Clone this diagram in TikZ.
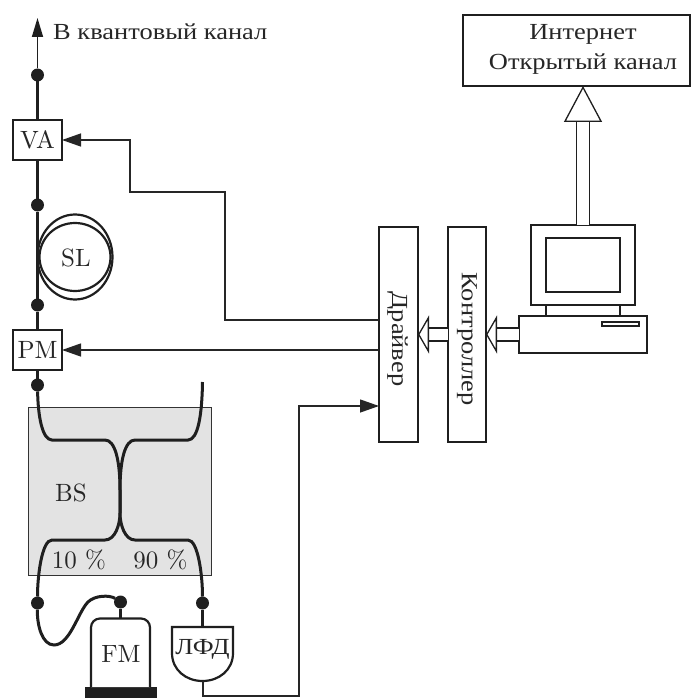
\documentclass[tikz,border=0pt]{standalone}
\usepackage{fontspec}
\setmainfont{lmroman10-regular.otf}
\newfontfamily\cyr[FakeStretch=1.15]{Liberation Serif}
\usetikzlibrary{arrows.meta,calc}
\tikzset{
  base font/.style={font=\fontsize{23}{28}\selectfont},
  latin font/.style={font=\fontsize{25}{30}\selectfont},
  fibre/.style={line width=3pt,draw=black!88},
  thinl/.style={line width=1.3pt,draw=black!85},
  sig/.style={thinl,-{Stealth[length=19pt,width=13pt,inset=0pt]}},
  box/.style={draw=black!88,line width=2.2pt,fill=white,inner sep=0pt,outer sep=0pt,latin font,text=black!85},
  dot/.style={circle,fill=black!88,minimum size=13pt,inner sep=0pt,outer sep=0pt},
  lbl/.style={inner sep=0pt,base font,text=black!85},
  llbl/.style={inner sep=0pt,latin font,text=black!85},
  hollow/.style={double=white,draw=black!88,line width=1.3pt,double distance=11.5pt,
    -{Triangle[open,length=36pt,width=38pt,line width=1.3pt,fill=white]}},
  hollowsmall/.style={double=white,draw=black!88,line width=1.3pt,double distance=11.5pt,
    -{Triangle[open,length=11pt,width=38pt,line width=1.3pt,fill=white]}},
}
\begin{document}
\begin{tikzpicture}[x=1pt,y=-1pt]
\useasboundingbox (0,0) rectangle (691,698);
% gray splitter
\node[fill=black!11,draw=black!80,line width=0.9pt,minimum width=183pt,minimum height=168pt,inner sep=0pt,outer sep=0pt] (bs) at (119.5,491) {};
% boxes
\node[box,minimum width=49pt,minimum height=40pt] (va) at (37.5,140) {VA};
\node[box,minimum width=49pt,minimum height=40pt] (pm) at (37.5,350) {PM};
\node[box,minimum width=215pt,minimum height=39pt,rotate=-90] (drv) at (398.5,334.5) {};
\node[box,minimum width=215pt,minimum height=38pt,rotate=-90] (ctl) at (467,334.5) {};
\node[lbl,rotate=-90] (drvt) at (397.5,339) {\cyr Драйвер};
\node[lbl,rotate=-90] (ctlt) at (467,339) {\cyr Контроллер};
\node[box,minimum width=227pt,minimum height=71pt,align=center] (net) at (576.5,50.5) {};
\node[lbl] (net1) at (583,34) {\cyr Интернет};
\node[lbl] (net2) at (583,64) {\cyr Открытый канал};
% dots
\node[dot] (d1) at (37.5,75) {};
\node[dot] (d2) at (37.5,205) {};
\node[dot] (d3) at (37.5,305) {};
\node[dot] (d4) at (37.5,385) {};
\node[dot] (d5) at (37.5,603) {};
\node[dot] (d6) at (202.5,603) {};
\node[dot,minimum width=13pt,minimum height=12pt] (d7) at (120.5,602) {};
\coordinate (top) at (37.5,18);
\coordinate (open) at (202.5,382);
\coordinate (xl) at (120,490);
\coordinate (xr) at (120,513);
% main fibre
\draw[line width=1.6pt,draw=black!88,-{Stealth[length=19pt,width=11pt,inset=0pt]}] (d1) -- (top);
\draw[fibre] (d1) -- (va);
\draw[fibre] (va) -- (d2);
\draw[fibre] (d2) -- (d3);
\draw[fibre] (d3) -- (pm);
\draw[fibre] (pm) -- (d4);
% SL coil
\draw[line width=2.2pt,draw=black!88] (75,257) ellipse [x radius=37.5pt,y radius=42.5pt];
\draw[line width=2.2pt,draw=black!88] (75,257) ellipse [x radius=35.5pt,y radius=34pt];
\node[llbl] (sl) at (76,258) {SL};
% splitter fibres
\draw[fibre] (d4) .. controls (38,415) and (42,440) .. (52,440) -- (105,440) .. controls (115,440) and (120,460) .. (xl) -- (xr)
  .. controls (120,525) and (115,540) .. (105,540) -- (52,540) .. controls (42,540) and (37.5,575) .. (d5);
\draw[fibre] (open) .. controls (202,415) and (198,440) .. (188,440) -- (135,440) .. controls (125,440) and (120,460) .. (xl) -- (xr)
  .. controls (120,525) and (125,540) .. (135,540) -- (188,540) .. controls (198,540) and (202.5,575) .. (d6);
\draw[fibre] (d5) .. controls (37,625) and (42,645) .. (54,645) .. controls (70,645) and (78,612) .. (88,602) .. controls (95,595) and (110,595) .. (d7);
\node[llbl] (bsl) at (71,493) {BS};
\node[llbl] (p10) at (79,560) {10 \%};
\node[llbl] (p90) at (160.5,560) {90 \%};
% FM
\node[fill=black!88,minimum width=72pt,minimum height=11pt,inner sep=0pt,outer sep=0pt] (fmb) at (121,692.5) {};
\draw[line width=2.2pt,draw=black!88,rounded corners=9pt,fill=white] (91,687) -- (91,618.5) -- (150,618.5) -- (150,687);
\node[llbl] (fm) at (121,654) {FM};
\coordinate (fmt) at (120.5,618);
\draw[fibre] (d7) -- (fmt);
% LFD
\draw[line width=2.2pt,draw=black!88,fill=white] (172,627) -- (233,627) -- (233,653) .. controls (233,670) and (219,681) .. (202.5,681) .. controls (186,681) and (172,670) .. (172,653) -- cycle;
\node[lbl] (lfd) at (202.5,649) {\cyr ЛФД};
\coordinate (lfdt) at (202.5,627);
\coordinate (lfdb) at (203,681);
\draw[fibre] (d6) -- (lfdt);
% signals
\coordinate (c1) at (225,320);
\coordinate (c2) at (130,192);
\coordinate (c3) at (130,140);
\draw[sig] (drv.south |- c1) -- (c1) |- (c2) -- (c3) -- (va.east);
\draw[sig] (drv.south |- pm.east) -- (pm.east);
\coordinate (c4) at (299,696);
\coordinate (c5) at (299,406);
\draw[sig] (lfdb) |- (c4) -- (c5) -- (drv.south |- c5);
% computer
\node[box,minimum width=128pt,minimum height=37pt] (pc) at (583,334.5) {};
\node[box,minimum width=104pt,minimum height=80pt] (mon) at (583,265) {};
\node[box,minimum width=74pt,minimum height=54pt] (scr) at (583,265) {};
\node[box,line width=1.6pt,minimum width=37pt,minimum height=4.5pt] (slot) at (620.5,324) {};
\coordinate (n1a) at (546,305); \coordinate (n1b) at (546,316);
\coordinate (n2a) at (620,305); \coordinate (n2b) at (620,316);
\draw[line width=2.2pt,draw=black!88] (n1a) -- (n1b);
\draw[line width=2.2pt,draw=black!88] (n2a) -- (n2b);
% hollow arrows
\draw[hollow] (mon.north) -- (net.south -| mon.north);
\draw[hollowsmall] (ctl.south |- pc.west) -- (drv.north |- pc.west);
\draw[hollowsmall] (pc.west) -- (ctl.north |- pc.west);
\node[lbl,anchor=west] (chan) at (53,32) {\cyr В квантовый канал};
\end{tikzpicture}
\end{document}
